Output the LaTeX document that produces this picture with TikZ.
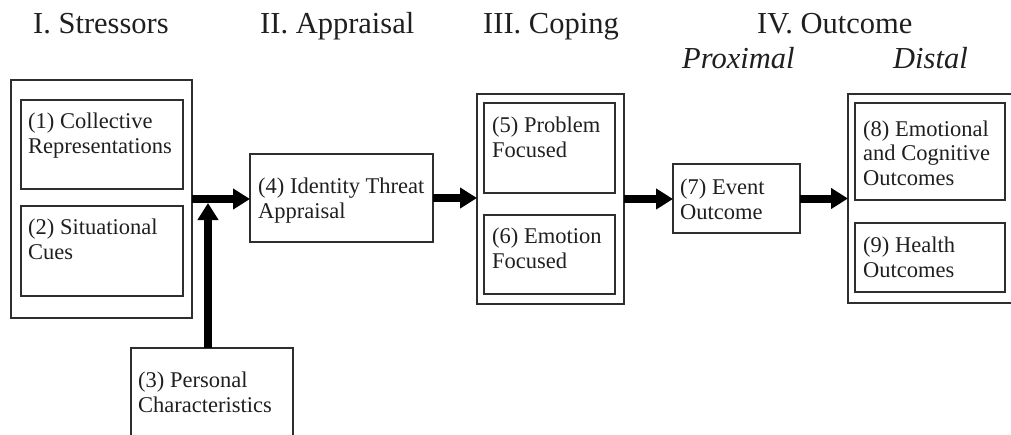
\documentclass[tikz,border=0pt]{standalone}
\usepackage{fontspec}
\setmainfont{Liberation Serif}
\usetikzlibrary{arrows.meta}
\begin{document}
\begin{tikzpicture}[x=1pt,y=-1pt,
  box/.style={draw=black!82, line width=1.6pt, inner sep=0pt, outer sep=0pt, fill=none},
  boxtext/.style={anchor=base west, inner sep=0pt, align=left, text=black!88,
    font=\fontsize{22.5}{24.5}\selectfont},
  header/.style={anchor=base west, inner sep=0pt, text=black!88,
    font=\fontsize{30.5}{32}\selectfont},
  subheader/.style={anchor=base west, inner sep=0pt, text=black!88,
    font=\fontsize{30.5}{32}\selectfont\itshape},
  bigarrow/.style={line width=8pt, draw=black, -{Triangle[width=20pt,length=17pt]}}
]
\useasboundingbox (0,0) rectangle (1011,434);

% headers
\node[header] (h1) at (33,33) {I. Stressors};
\node[header] (h2) at (260,33) {II. Appraisal};
\node[header] (h3) at (483,33) {III. Coping};
\node[header] (h4) at (757,33) {IV. Outcome};
\node[subheader] (h5) at (682,68) {Proximal};
\node[subheader] (h6) at (893,68) {Distal};

% boxes
\node[box, minimum width=181pt, minimum height=238pt] (S) at (101.5,199) {};
\node[box, minimum width=162pt, minimum height=89pt] (b1) at (102,144.5) {};
\node[box, minimum width=162pt, minimum height=90pt] (b2) at (102,251) {};
\node[box, minimum width=162pt, minimum height=97pt] (P) at (212,396.5) {};
\node[box, minimum width=183pt, minimum height=88pt] (A) at (341.5,198) {};
\node[box, minimum width=147pt, minimum height=210pt] (C) at (550.5,199) {};
\node[box, minimum width=131pt, minimum height=90pt] (b5) at (549.5,148) {};
\node[box, minimum width=131pt, minimum height=79pt] (b6) at (549.5,254.5) {};
\node[box, minimum width=127pt, minimum height=69pt] (E) at (736.5,198.5) {};
\node[box, minimum width=165pt, minimum height=209pt] (O) at (930.5,198.5) {};
\node[box, minimum width=150pt, minimum height=97pt] (b8) at (930,151.5) {};
\node[box, minimum width=150pt, minimum height=69pt] (b9) at (930,257.5) {};

% texts (anchored at the baseline of the last line)
\node[boxtext] (t1) at (28,153) {(1) Collective\\Representations};
\node[boxtext] (t2) at (28,259) {(2) Situational\\Cues};
\node[boxtext] (t3) at (138,412) {(3) Personal\\Characteristics};
\node[boxtext] (t4) at (258,218) {(4) Identity Threat\\Appraisal};
\node[boxtext] (t5) at (492,157) {(5) Problem\\Focused};
\node[boxtext] (t6) at (492,268) {(6) Emotion\\Focused};
\node[boxtext] (t7) at (680,219) {(7) Event\\Outcome};
\node[boxtext] (t8) at (863,185) {(8) Emotional\\and Cognitive\\Outcomes};
\node[boxtext] (t9) at (863,277) {(9) Health\\Outcomes};

% connectors
\coordinate (j) at (208,203);
\draw[bigarrow] (S.east) -- (S.east -| A.west);
\draw[bigarrow] (j |- P.north) -- (j);
\draw[bigarrow] (A.east) -- (A.east -| C.west);
\draw[bigarrow] (C.east) -- (C.east -| E.west);
\draw[bigarrow] (E.east) -- (E.east -| O.west);
\end{tikzpicture}
\end{document}
